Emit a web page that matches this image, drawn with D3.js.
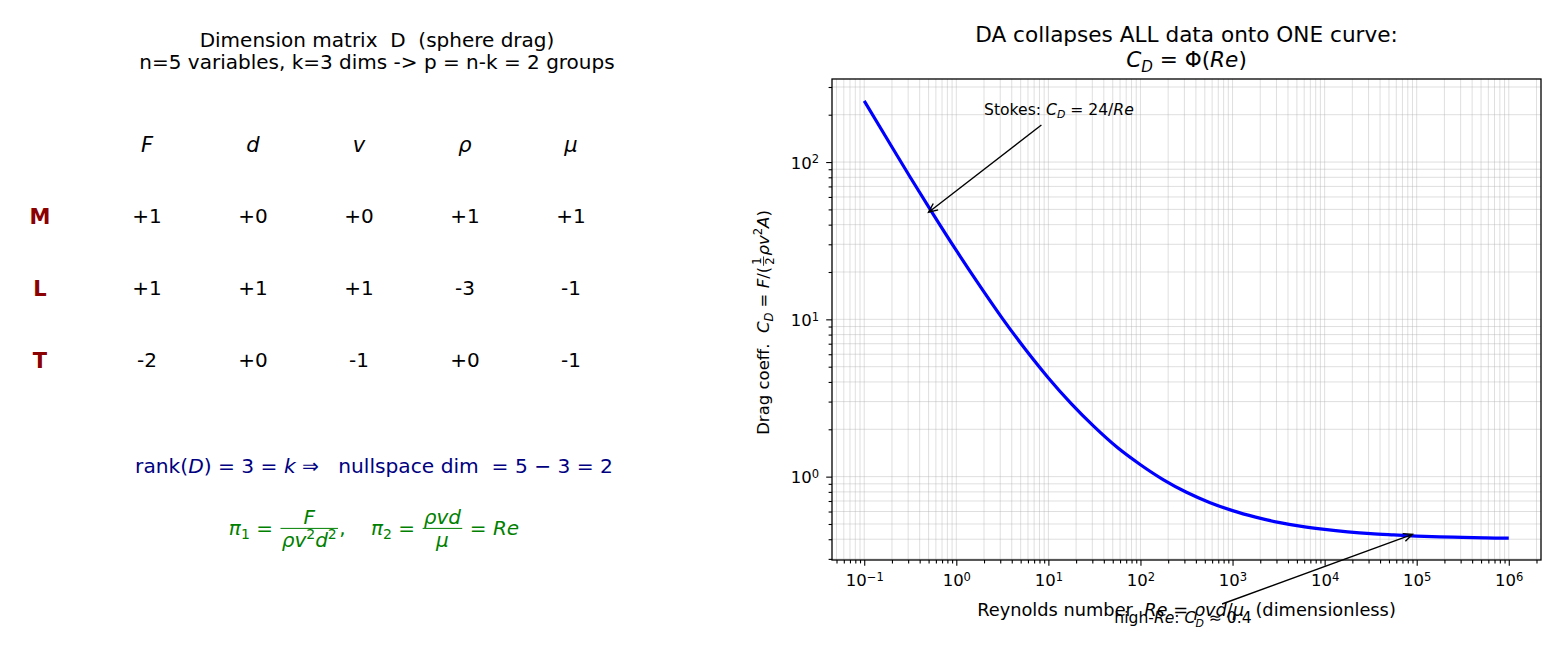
<!DOCTYPE html>
<html><head><meta charset="utf-8">
<script src="https://cdn.jsdelivr.net/npm/d3@7"></script>
<style>
html,body{margin:0;padding:0;background:#fff;}
text{font-family:"DejaVu Sans",sans-serif;white-space:pre;}
</style></head>
<body><svg id="c" width="1560" height="650"></svg>
<script>
// ---------- data ----------
const variables = ["F","d","v","ρ","μ"];
const dims = ["M","L","T"];
const matrixM = ["+1","+0","+0","+1","+1"];
const matrixL = ["+1","+1","+1","-3","-1"];
const matrixT = ["-2","+0","-1","+0","-1"];
const reynolds = [0.1,0.178,0.316,0.562,1,1.78,3.16,5.62,10,17.8,31.6,56.2,100,178,316,562,1000,1780,3160,5620,1e4,1.78e4,3.16e4,5.62e4,1e5,1.78e5,3.16e5,5.62e5,1e6];
const dragCoeff = [245,139.6,80.1,46.5,27.4,16.5,10.15,6.45,4.24,2.90,2.07,1.53,1.19,0.954,0.795,0.685,0.608,0.553,0.512,0.483,0.462,0.446,0.434,0.426,0.419,0.414,0.411,0.408,0.406];
const xTickExps = [-1,0,1,2,3,4,5,6];
const yTickExps = [0,1,2];
const stokesNote = {text:[0.5,48],label:[2,200],from:[8.4,172]};
const highNote = {text:[9e4,0.43],label:[52,0.117],from:[770,0.155]};

const svg = d3.select("#c");

// ---------- math text helper ----------
function renderSegs(g, segs, size, x0, y0, color){
  let x = x0;
  for(const s of segs){
    if(s.frac){
      const fs = s.small ? size*0.7 : size;
      const numG = g.append("g"), denG = g.append("g");
      const wn = renderSegs(numG, s.frac[0], fs, 0, 0, color);
      const wd = renderSegs(denG, s.frac[1], fs, 0, 0, color);
      const pad = size*0.12;
      const w = Math.max(wn, wd) + 2*pad;
      const bar = y0 - size*0.33;
      numG.attr("transform", `translate(${x+(w-wn)/2},${bar - fs*0.2})`);
      denG.attr("transform", `translate(${x+(w-wd)/2},${bar + fs*0.93})`);
      g.append("line").attr("x1",x+pad*0.5).attr("x2",x+w-pad*0.5).attr("y1",bar).attr("y2",bar)
        .attr("stroke",color).attr("stroke-width",Math.max(0.8,size*0.05));
      x += w;
    } else {
      const fs = (s.sub||s.sup) ? size*0.7 : size;
      const dy = s.sub ? size*0.22 : (s.sup ? -size*0.42 : 0);
      const t = g.append("text").attr("x",x).attr("y",y0+dy).attr("font-size",fs)
        .attr("font-style", s.it ? "italic":"normal").attr("font-weight", s.b ? "bold":"normal")
        .attr("fill",color).text(s.t);
      x += t.node().getComputedTextLength();
    }
  }
  return x - x0;
}
function mathText(parent, segs, size, x, y, color, anchor){
  const g = parent.append("g");
  const inner = g.append("g");
  const w = renderSegs(inner, segs, size, 0, 0, color);
  const off = anchor==="middle" ? -w/2 : (anchor==="end" ? -w : 0);
  inner.attr("transform", `translate(${off},0)`);
  g.attr("transform", `translate(${x},${y})`);
  return g;
}

// ---------- left panel ----------
const left = svg.append("g");
left.append("text").attr("x",377).attr("y",47).attr("text-anchor","middle").attr("font-size",20)
  .text("Dimension matrix  D  (sphere drag)");
left.append("text").attr("x",377).attr("y",69).attr("text-anchor","middle").attr("font-size",20)
  .text("n=5 variables, k=3 dims -> p = n-k = 2 groups");

const colX = d3.scaleLinear().domain([0,4]).range([147,571]);
const rowY = d3.scaleLinear().domain([0,3]).range([144,360]);
variables.forEach((v,i)=>{
  left.append("text").attr("x",colX(i)).attr("y",rowY(0)).attr("dy","0.36em").attr("text-anchor","middle")
    .attr("font-size",21).attr("font-style","italic").text(v);
});
const rows = [matrixM, matrixL, matrixT];
dims.forEach((d,r)=>{
  left.append("text").attr("x",40).attr("y",rowY(r+1)).attr("dy","0.36em").attr("text-anchor","middle")
    .attr("font-size",21).attr("font-weight","bold").attr("fill","#8b0000").text(d);
  rows[r].forEach((val,i)=>{
    left.append("text").attr("x",colX(i)).attr("y",rowY(r+1)).attr("dy","0.36em").attr("text-anchor","middle")
      .attr("font-size",20).text(val);
  });
});

mathText(left, [{t:"rank("},{t:"D",it:1},{t:") = 3 = "},{t:"k",it:1},{t:" ⇒   nullspace dim  = 5 − 3 = 2"}],
  20.2, 374, 473, "#000080", "middle");
mathText(left, [
  {t:"π",it:1},{t:"1",sub:1},{t:" = "},
  {frac:[[{t:"F",it:1}],[{t:"ρv",it:1},{t:"2",sup:1},{t:"d",it:1},{t:"2",sup:1}]]},
  {t:",    "},{t:"π",it:1},{t:"2",sub:1},{t:" = "},
  {frac:[[{t:"ρvd",it:1}],[{t:"μ",it:1}]]},
  {t:" = "},{t:"Re",it:1}
], 20, 374, 535, "#008000", "middle");

// ---------- right panel ----------
const m = {l:832, r:1541, t:79, b:560};
const x = d3.scaleLog().domain([Math.pow(10,-1.35), Math.pow(10,6.35)]).range([m.l, m.r]);
const y = d3.scaleLog().domain([Math.pow(10,-0.53), Math.pow(10,2.528)]).range([m.b, m.t]);

function minors(scale){
  const [a,b] = scale.domain(); const out=[];
  for(let e=Math.floor(Math.log10(a)); e<=Math.ceil(Math.log10(b)); e++){
    for(let k=2;k<=9;k++){ const v=k*Math.pow(10,e); if(v>=a && v<=b) out.push(v); }
  }
  return out;
}
const xMajor = xTickExps.map(e=>Math.pow(10,e));
const yMajor = yTickExps.map(e=>Math.pow(10,e));
const xMinor = minors(x), yMinor = minors(y);

const right = svg.append("g");
// grid
const grid = right.append("g").attr("stroke","#b0b0b0").attr("stroke-opacity",0.4).attr("stroke-width",1);
xMajor.concat(xMinor).forEach(v=>grid.append("line").attr("x1",x(v)).attr("x2",x(v)).attr("y1",m.t).attr("y2",m.b));
yMajor.concat(yMinor).forEach(v=>grid.append("line").attr("y1",y(v)).attr("y2",y(v)).attr("x1",m.l).attr("x2",m.r));

// curve
const pts = reynolds.map((r,i)=>[r, dragCoeff[i]]);
right.append("path").datum(pts)
  .attr("d", d3.line().x(d=>x(d[0])).y(d=>y(d[1])).curve(d3.curveMonotoneX))
  .attr("fill","none").attr("stroke","#0000ff").attr("stroke-width",3.2);

// spines
right.append("rect").attr("x",m.l).attr("y",m.t).attr("width",m.r-m.l).attr("height",m.b-m.t)
  .attr("fill","none").attr("stroke","#000").attr("stroke-width",1.3);

function supLabels(sel){
  sel.selectAll(".tick text").each(function(d){
    const e = Math.round(Math.log10(d));
    const t = d3.select(this); t.text("");
    t.append("tspan").text("10");
    t.append("tspan").attr("dy","-0.45em").attr("font-size","0.7em").text(String(e).replace("-","−"));
  });
}
// x axis
const xa = right.append("g").attr("transform",`translate(0,${m.b})`)
  .call(d3.axisBottom(x).tickValues(xMajor).tickSize(5.8).tickPadding(8.5).tickFormat(d=>String(d)));
xa.select(".domain").remove();
xa.selectAll(".tick text").attr("font-size",16.5).attr("font-family","DejaVu Sans").attr("fill","#000");
supLabels(xa);
const xm = right.append("g").attr("transform",`translate(0,${m.b})`)
  .call(d3.axisBottom(x).tickValues(xMinor).tickSize(3.4).tickFormat(""));
xm.select(".domain").remove();
// y axis
const ya = right.append("g").attr("transform",`translate(${m.l},0)`)
  .call(d3.axisLeft(y).tickValues(yMajor).tickSize(5.8).tickPadding(7).tickFormat(d=>String(d)));
ya.select(".domain").remove();
ya.selectAll(".tick text").attr("font-size",16.5).attr("font-family","DejaVu Sans").attr("fill","#000").attr("dy","0.36em");
supLabels(ya);
const ym = right.append("g").attr("transform",`translate(${m.l},0)`)
  .call(d3.axisLeft(y).tickValues(yMinor).tickSize(3.4).tickFormat(""));
ym.select(".domain").remove();
right.selectAll(".tick line").attr("stroke","#000").attr("stroke-width",1.1);

// titles
const cx = (m.l+m.r)/2;
right.append("text").attr("x",cx).attr("y",42).attr("text-anchor","middle").attr("font-size",21.6)
  .text("DA collapses ALL data onto ONE curve:");
mathText(right, [{t:"C",it:1},{t:"D",it:1,sub:1},{t:" = Φ("},{t:"Re",it:1},{t:")"}], 21.6, cx, 67, "#000", "middle");

// axis labels
mathText(right, [{t:"Reynolds number  "},{t:"Re",it:1},{t:" = "},{t:"ρvd",it:1},{t:"/"},{t:"μ",it:1},{t:"  (dimensionless)"}],
  17.8, cx, 616, "#000", "middle");
const yl = right.append("g").attr("transform",`translate(769,${(m.t+m.b)/2 + 3}) rotate(-90)`);
mathText(yl, [{t:"Drag coeff.  "},{t:"C",it:1},{t:"D",it:1,sub:1},{t:" = "},{t:"F",it:1},{t:"/("},
  {frac:[[{t:"1"}],[{t:"2"}]],small:1},{t:"ρv",it:1},{t:"2",sup:1},{t:"A",it:1},{t:")"}], 16.5, 0, 0, "#000", "middle");

// annotations
const defs = svg.append("defs");
defs.append("marker").attr("id","arr").attr("viewBox","-12 -7 14 14").attr("refX",0).attr("refY",0)
  .attr("markerWidth",14).attr("markerHeight",14).attr("markerUnits","userSpaceOnUse").attr("orient","auto")
  .append("path").attr("d","M-9,-4 L0,0 L-9,4").attr("fill","none").attr("stroke","#000").attr("stroke-width",1.4);
[stokesNote, highNote].forEach(n=>{
  right.append("line").attr("x1",x(n.from[0])).attr("y1",y(n.from[1])).attr("x2",x(n.text[0])).attr("y2",y(n.text[1]))
    .attr("stroke","#000").attr("stroke-width",1.4).attr("marker-end","url(#arr)");
});
mathText(right, [{t:"Stokes: "},{t:"C",it:1},{t:"D",it:1,sub:1},{t:" = 24/"},{t:"Re",it:1}], 15.6,
  x(stokesNote.label[0]), y(stokesNote.label[1]), "#000", "start");
mathText(right, [{t:"high-"},{t:"Re",it:1},{t:": "},{t:"C",it:1},{t:"D",it:1,sub:1},{t:" ≈ 0.4"}], 15.6,
  x(highNote.label[0]), y(highNote.label[1]), "#000", "start");
</script></body></html>
